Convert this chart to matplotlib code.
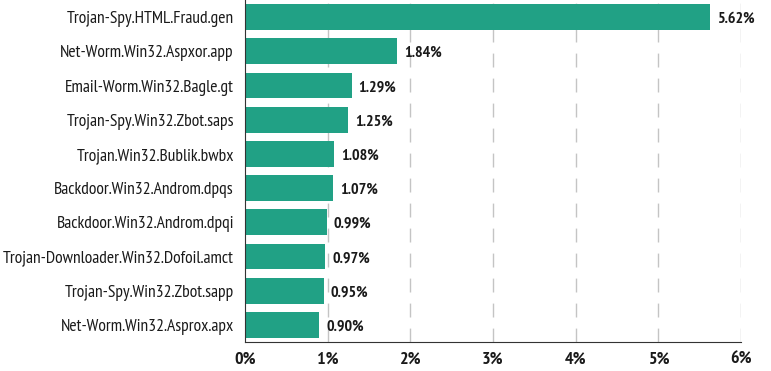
import matplotlib
matplotlib.use("Agg")
import matplotlib.pyplot as plt
from matplotlib import font_manager as fm

names = ["Trojan-Spy.HTML.Fraud.gen", "Net-Worm.Win32.Aspxor.app", "Email-Worm.Win32.Bagle.gt",
         "Trojan-Spy.Win32.Zbot.saps", "Trojan.Win32.Bublik.bwbx", "Backdoor.Win32.Androm.dpqs",
         "Backdoor.Win32.Androm.dpqi", "Trojan-Downloader.Win32.Dofoil.amct",
         "Trojan-Spy.Win32.Zbot.sapp", "Net-Worm.Win32.Asprox.apx"]
values = [5.62, 1.84, 1.29, 1.25, 1.08, 1.07, 0.99, 0.97, 0.95, 0.90]
xticks = [0, 1, 2, 3, 4, 5, 6]

avail = {f.name for f in fm.fontManager.ttflist}
fam, stretch = "DejaVu Sans", "condensed"
for cand in ["PT Sans Narrow", "Fira Sans Condensed", "Open Sans Condensed", "Roboto Condensed"]:
    if cand in avail:
        fam, stretch = cand, "normal"
        break

fig = plt.figure(figsize=(7.71, 3.71), dpi=100)
ax = fig.add_axes([245/771, 1-342/371, 496/771, 342/371])
color = "#21a185"
y = list(range(len(names)))
ax.barh(y, values, height=0.76, color=color, zorder=3)
ax.set_ylim(len(names)-0.5, -0.5)
ax.set_xlim(0, 6)
ax.set_xticks(xticks)
ax.set_xticklabels([f"{t}%" for t in xticks], fontfamily=fam, fontstretch=stretch,
                   fontweight="bold", fontsize=13, color="#1a1a1a")
ax.set_yticks(y)
ax.set_yticklabels(names, fontfamily=fam, fontstretch=stretch, fontsize=12.6, color="#1a1a1a")
ax.tick_params(axis="both", length=0)
ax.tick_params(axis="y", pad=8)
ax.tick_params(axis="x", pad=7)
for t in xticks[1:]:
    ax.axvline(t, color="#c4c4c4", lw=1, ls=(0, (10, 8)), zorder=1)
for s in ["top", "right"]:
    ax.spines[s].set_visible(False)
ax.spines["left"].set_color("#333333")
ax.spines["bottom"].set_color("#333333")
ax.spines["left"].set_zorder(4)
for i, v in enumerate(values):
    ax.text(v + 0.085, i + 0.05, f"{v:.2f}%", va="center", ha="left", fontfamily=fam,
            fontstretch=stretch, fontweight="bold", fontsize=11.5, color="#1a1a1a", zorder=5)
fig.savefig("out.png", dpi=100)
